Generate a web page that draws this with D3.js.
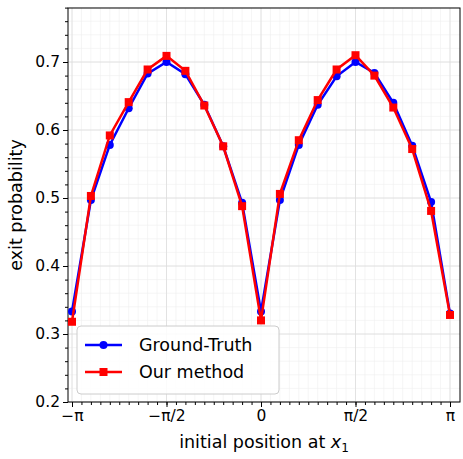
<!DOCTYPE html><html><head><script src="https://cdn.jsdelivr.net/npm/d3@7"></script>
<style>body{margin:0;background:#fff}text{font-family:"DejaVu Sans",sans-serif}</style></head><body><svg id="c" width="463" height="459"></svg><script>
const xVals=d3.range(21).map(i=>-Math.PI+i*Math.PI/10);
const groundTruth=[0.333,0.497,0.578,0.632,0.683,0.700,0.682,0.637,0.576,0.493,0.333,0.497,0.578,0.637,0.679,0.700,0.684,0.640,0.577,0.494,0.330];
const ourMethod=[0.318,0.503,0.592,0.641,0.689,0.709,0.687,0.636,0.576,0.488,0.320,0.506,0.585,0.644,0.689,0.710,0.680,0.633,0.572,0.481,0.328];
const xTicks=[-Math.PI,-Math.PI/2,0,Math.PI/2,Math.PI];
const xTickLabels=["\u2212\u03c0","\u2212\u03c0/2","0","\u03c0/2","\u03c0"];
const yTicks=[0.2,0.3,0.4,0.5,0.6,0.7];
const svg=d3.select("#c");
const L=68,R=460,T=8,B=402;
const x=d3.scaleLinear().domain([-Math.PI-4/189*Math.PI,Math.PI+10/189*Math.PI]).range([L,R]);
const y=d3.scaleLinear().domain([0.2,0.2+(B-T)/680]).range([B,T]);
const g=svg.append("g");
const xm=d3.range(-20,21).map(i=>i*Math.PI/20).filter(v=>v>=x.domain()[0]&&v<=x.domain()[1]);
const ym=d3.range(0.2,0.79,0.02);
g.selectAll(".xm").data(xm).enter().append("line").attr("x1",d=>x(d)).attr("x2",d=>x(d)).attr("y1",T).attr("y2",B).attr("stroke","#eee").attr("stroke-width",0.6);
g.selectAll(".ym").data(ym).enter().append("line").attr("y1",d=>y(d)).attr("y2",d=>y(d)).attr("x1",L).attr("x2",R).attr("stroke","#eee").attr("stroke-width",0.6);
g.selectAll(".xg").data(xTicks).enter().append("line").attr("x1",d=>x(d)).attr("x2",d=>x(d)).attr("y1",T).attr("y2",B).attr("stroke","#ddd").attr("stroke-width",0.8);
g.selectAll(".yg").data(yTicks).enter().append("line").attr("y1",d=>y(d)).attr("y2",d=>y(d)).attr("x1",L).attr("x2",R).attr("stroke","#ddd").attr("stroke-width",0.8);
const xa=svg.append("g").attr("transform",`translate(0,${B})`).call(d3.axisBottom(x).tickValues(xTicks).tickFormat((d,i)=>xTickLabels[i]).tickSize(5).tickSizeOuter(0));
xa.append("g").call(d3.axisBottom(x).tickValues(xm).tickFormat("").tickSize(3));
const ya=svg.append("g").attr("transform",`translate(${L},0)`).call(d3.axisLeft(y).tickValues(yTicks).tickFormat(d3.format(".1f")).tickSize(5).tickSizeOuter(0));
ya.append("g").call(d3.axisLeft(y).tickValues(ym).tickFormat("").tickSize(3));
svg.selectAll(".tick text").attr("font-size",15.5).attr("fill","#000");
svg.selectAll(".domain").remove();
svg.append("rect").attr("x",L).attr("y",T).attr("width",R-L).attr("height",B-T).attr("fill","none").attr("stroke","#000").attr("stroke-width",1);
const line=d3.line().x((d,i)=>x(xVals[i])).y(d=>y(d));
svg.append("path").datum(groundTruth).attr("d",line).attr("fill","none").attr("stroke","#0000ff").attr("stroke-width",2.5);
svg.selectAll(".gp").data(groundTruth).enter().append("circle").attr("cx",(d,i)=>x(xVals[i])).attr("cy",d=>y(d)).attr("r",4).attr("fill","#0000ff");
svg.append("path").datum(ourMethod).attr("d",line).attr("fill","none").attr("stroke","#ff0000").attr("stroke-width",2.5);
svg.selectAll(".op").data(ourMethod).enter().append("rect").attr("x",(d,i)=>x(xVals[i])-4).attr("y",d=>y(d)-4).attr("width",8).attr("height",8).attr("fill","#ff0000");
svg.append("text").attr("x",(L+R)/2).attr("y",448).attr("text-anchor","middle").attr("font-size",17.5).html('initial position at <tspan font-style="italic">x</tspan><tspan font-size="12" dy="4">1</tspan>');
svg.append("text").attr("transform","rotate(-90)").attr("x",-(T+B)/2).attr("y",22).attr("text-anchor","middle").attr("font-size",17.5).text("exit probability");
const lg=svg.append("g");
lg.append("rect").attr("x",77).attr("y",326).attr("width",202).attr("height",68).attr("rx",4).attr("fill","#fff").attr("fill-opacity",0.85).attr("stroke","#ccc");
[["Ground-Truth","#0000ff","c"],["Our method","#ff0000","s"]].forEach((e,i)=>{const yy=345+i*27;
lg.append("line").attr("x1",85).attr("x2",122).attr("y1",yy).attr("y2",yy).attr("stroke",e[1]).attr("stroke-width",2.5);
if(e[2]=="c")lg.append("circle").attr("cx",103.5).attr("cy",yy).attr("r",4).attr("fill",e[1]);else lg.append("rect").attr("x",99.5).attr("y",yy-4).attr("width",8).attr("height",8).attr("fill",e[1]);
lg.append("text").attr("x",139).attr("y",yy+6).attr("font-size",17.5).text(e[0]);});
</script></body></html>
